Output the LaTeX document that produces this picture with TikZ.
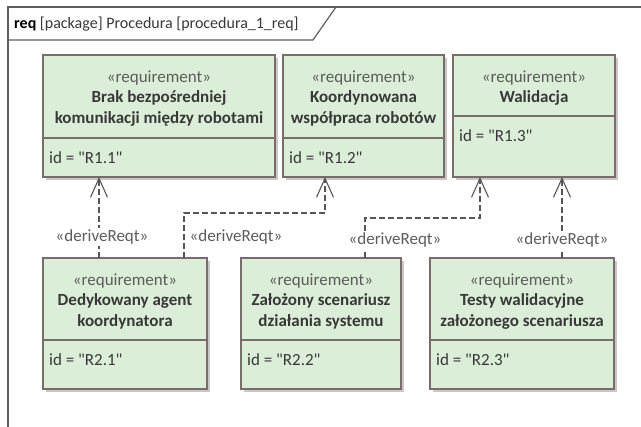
\documentclass[tikz,border=0pt]{standalone}
\usepackage{fontspec}
\setmainfont{Carlito}[Ligatures=TeXOff]
\usetikzlibrary{arrows.meta,fit}

\definecolor{boxfill}{HTML}{DBEED7}
\definecolor{boxedge}{HTML}{7A6C6A}
\definecolor{boxshade}{HTML}{CBC7C7}
\definecolor{inktext}{HTML}{383838}
\definecolor{stereo}{HTML}{5C5C5C}
\definecolor{linec}{HTML}{555555}
\definecolor{framec}{HTML}{5E5E5E}

\tikzset{
  reqframe/.style={draw=boxedge, line width=1.6pt, fill=boxfill, inner sep=0pt, outer sep=0pt, rectangle},
  reqline/.style={draw=boxedge, line width=1.6pt},
  reqshadow/.style={fill=boxshade},
  reqtitle/.style={inner sep=0pt, align=center, text=inktext, font=\fontsize{17}{20.5}\selectfont},
  reqid/.style={inner sep=0pt, text=inktext, font=\fontsize{17}{20}\selectfont},
  derive/.style={draw=linec, line width=1.2pt, dash pattern=on 6pt off 3pt,
    -{Straight Barb[length=19pt,width=17pt,line width=1.1pt]}},
  dlabel/.style={fill=white, inner sep=1.5pt, text=stereo, font=\fontsize{17}{20}\selectfont},
  frameline/.style={draw=framec, line width=1.2pt},
}

% #1 name, #2 left, #3 top, #4 right, #5 bottom, #6 divider, #7 title lines, #8 id
\newcommand\reqbox[8]{%
  \fill[reqshadow] (#2+3,#3+3) rectangle (#4+3,#5+3);
  \node[reqframe, fit={(#2,#3) (#4,#5)}] (#1) {};
  \draw[reqline] (#2,#6) -- (#4,#6);
  \node[reqtitle, anchor=north] (#1-title) at ({(#2+#4)/2},#3+15.5)
    {\textcolor{stereo}{«requirement»}\\ #7};
  \node[reqid, anchor=base west] (#1-id) at (#2+6,#6+26) {id = "#8"};
}

\begin{document}
\begin{tikzpicture}[x=1pt,y=-1pt]
\useasboundingbox[fill=white] (0,0) rectangle (641,427);

% diagram frame and its name tab
\draw[frameline] (8,427) -- (8,7) -- (641,7);
\draw[frameline] (8,40) -- (313,40) -- (336,7);
\node[anchor=base west, inner sep=0pt, text=inktext, font=\fontsize{16}{18}\selectfont]
  (header) at (14,29) {\textcolor{black}{\textbf{req}} [package] Procedura [procedura\_1\_req]};

% upper requirements
\reqbox{r11}{43}{55}{275}{177}{138}{\textbf{Brak bezpośredniej}\\\textbf{komunikacji między robotami}}{R1.1}
\reqbox{r12}{283}{55}{444}{177}{138}{\textbf{Koordynowana}\\\textbf{współpraca robotów}}{R1.2}
\reqbox{r13}{453}{55}{615}{177}{116}{\textbf{Walidacja}}{R1.3}

% derived requirements
\reqbox{r21}{43}{258}{207}{389}{340}{\textbf{Dedykowany agent}\\\textbf{koordynatora}}{R2.1}
\reqbox{r22}{241}{258}{401}{389}{340}{\textbf{Założony scenariusz}\\\textbf{działania systemu}}{R2.2}
\reqbox{r23}{430}{258}{614}{389}{340}{\textbf{Testy walidacyjne}\\\textbf{założonego scenariusza}}{R2.3}

% bend heights of the routed connectors
\coordinate (bendA) at (0,213);
\coordinate (bendB) at (0,218);

% deriveReqt dependencies
\draw[derive] ([xshift=56pt]r21.north west) -- ([xshift=56pt]r11.south west);
\draw[derive] ([xshift=141pt]r21.north west) -- ([xshift=141pt]r21.north west |- bendA)
  -| ([xshift=42pt]r12.south west);
\draw[derive] ([xshift=124pt]r22.north west) -- ([xshift=124pt]r22.north west |- bendB)
  -| ([xshift=27pt]r13.south west);
\draw[derive] ([xshift=132pt]r23.north west) -- ([xshift=109pt]r13.south west);

\node[dlabel] (d1) at (102,237) {«deriveReqt»};
\node[dlabel] (d2) at (236,237) {«deriveReqt»};
\node[dlabel] (d3) at (395,240) {«deriveReqt»};
\node[dlabel] (d4) at (562,240) {«deriveReqt»};
\end{tikzpicture}
\end{document}
